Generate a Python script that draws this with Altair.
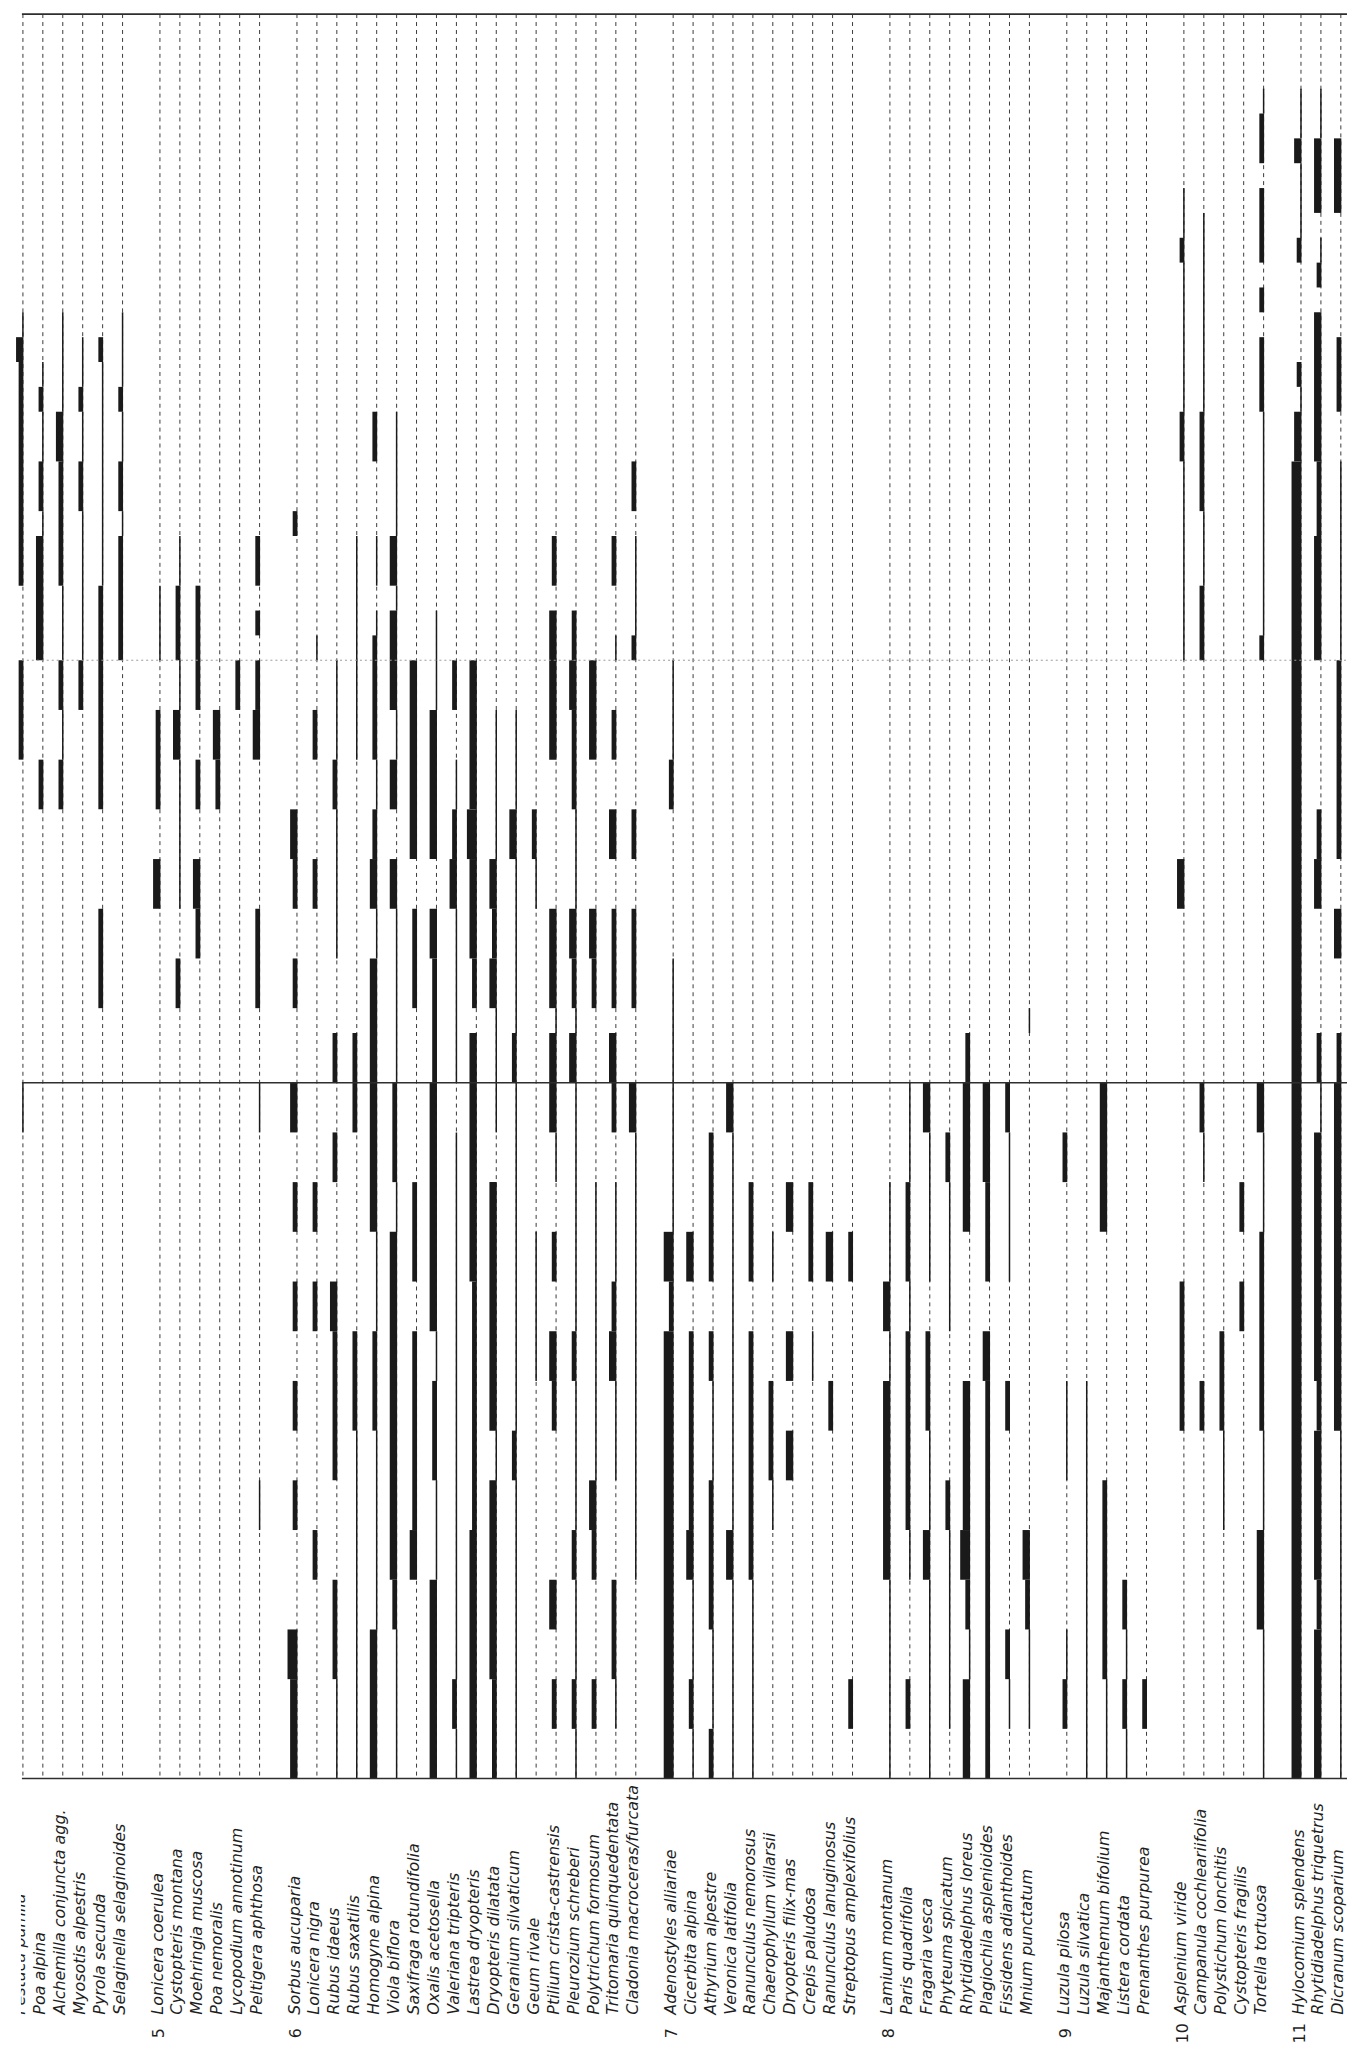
import altair as alt
import pandas as pd

# ---------------- table layout (rows) ----------------
SECTION_ROWS = [26, 17, 14]        # relevé rows in top / middle / bottom block
SECTION_ROW_UNITS = [1, 1, 2]      # height of one row in each block (table units)

# cover classes: 0 = absent (dashed), 1 = thin, 2 = medium, 3 = thick, 4 = very thick
# each string: top block | middle block | bottom block
G4_NUMBER = "4"
G4_SPECIES = ["Festuca pumila", "Poa alpina", "Alchemilla conjuncta agg.",
              "Myosotis alpestris", "Pyrola secunda", "Selaginella selaginoides"]
G4_COVER = [
    "00000000000013222222222000|22220000000000000|10000000000000",
    "00000000000000121122133333|00002200000000000|00000000000000",
    "00000000000011113322222111|22112200000000000|00000000000000",
    "00000000000001121122111111|22000000000000000|00000000000000",
    "00000000000002111111111222|22222200002222000|00000000000000",
    "00000000000011121122122222|00000000000000000|00000000000000",
]

G5_NUMBER = "5"
G5_SPECIES = ["Lonicera coerulea", "Cystopteris montana", "Moehringia muscosa",
              "Poa nemoralis", "Lycopodium annotinum", "Peltigera aphthosa"]
G5_COVER = [
    "00000000000000000000000111|00222200330000000|00000000000000",
    "00000000000000000000011222|11331111110022000|00000000000000",
    "00000000000000000000000222|22002200332200000|00000000000000",
    "00000000000000000000000000|00332200000000000|00000000000000",
    "00000000000000000000000000|22000000000000000|00000000000000",
    "00000000000000000000022020|22330000002222000|10000000100000",
]

G6_NUMBER = "6"
G6_SPECIES = ["Sorbus aucuparia", "Lonicera nigra", "Rubus idaeus", "Rubus saxatilis",
              "Homogyne alpina", "Viola biflora", "Saxifraga rotundifolia",
              "Oxalis acetosella", "Valeriana tripteris", "Lastrea dryopteris",
              "Dryopteris dilatata", "Geranium silvaticum", "Geum rivale",
              "Ptilium crista-castrensis", "Pleurozium schreberi", "Polytrichum formosum",
              "Tritomaria quinquedentata", "Cladonia macroceras/furcata"]
G6_COVER = [
    "00000000000000000000200000|00000033220022000|30202020200433",
    "00000000000000000000000001|00220000220000000|00202000020000",
    "00000000000000000000000000|11112211111100022|02003222002211",
    "00000000000000000000011111|11110000000000022|20000221111111",
    "00000000000000002200011012|22221122331133333|33311221111333",
    "00000000000000001111133133|33113300331111111|22133333332111",
    "00000000000000000000000000|33333333002222000|00220222230000",
    "00000000000000000000000011|11333333003322222|33333122113333",
    "00000000000000000000000000|22001122331111111|01111111111121",
    "00000000000000000000000000|33333344333322033|33332222233333",
    "00000000000000000000000000|00111111332233111|10333331333322",
    "00000000000000000000000000|00111133111111122|11111112111111",
    "00000000000000000000000000|00000022110000000|00011100000000",
    "00000000000000000000022033|33330000003333133|31020320003020",
    "00000000000000000000000022|33222211113322133|11111211121121",
    "00000000000000000000000000|33330000003322000|00111111320020",
    "00000000000000000000022001|00220033002222033|20112311002210",
    "00000000000000000022011112|00000022002222000|31111111110000",
]

G7_NUMBER = "7"
G7_SPECIES = ["Adenostyles alliariae", "Cicerbita alpina", "Athyrium alpestre",
              "Veronica latifolia", "Ranunculus nemorosus", "Chaerophyllum villarsii",
              "Dryopteris filix-mas", "Crepis paludosa", "Ranunculus lanuginosus",
              "Streptopus amplexifolius"]
G7_COVER = [
    "00000000000000000000000000|11112200000011111|11142444444444",
    "00000000000000000000000000|00000000000000000|00030222231121",
    "00000000000000000000000000|00000000000000000|02220211222112",
    "00000000000000000000000000|00000000000000000|31111111131111",
    "00000000000000000000000000|00000000000000000|00220222221111",
    "00000000000000000000000000|00000000000000000|00010022100000",
    "00000000000000000000000000|00000000000000000|00300303000000",
    "00000000000000000000000000|00000000000000000|00220100000000",
    "00000000000000000000000000|00000000000000000|00030020000000",
    "00000000000000000000000000|00000000000000000|00020000000020",
]

G8_NUMBER = "8"
G8_SPECIES = ["Lamium montanum", "Paris quadrifolia", "Fragaria vesca",
              "Phyteuma spicatum", "Rhytidiadelphus loreus", "Plagiochila asplenioides",
              "Fissidens adianthoides", "Mnium punctatum"]
G8_COVER = [
    "00000000000000000000000000|00000000000000000|00113133331111",
    "00000000000000000000000000|00000000000000000|11221222210020",
    "00000000000000000000000000|00000000000000000|31110221131111",
    "00000000000000000000000000|00000000000000000|02111000211110",
    "00000000000000000000000000|00000000000000022|33300033342133",
    "00000000000000000000000000|00000000000000000|33220322222222",
    "00000000000000000000000000|00000000000000000|21110020000210",
    "00000000000000000000000000|00000000000000100|00000000032110",
]

G9_NUMBER = "9"
G9_SPECIES = ["Luzula pilosa", "Luzula silvatica", "Majanthemum bifolium",
              "Listera cordata", "Prenanthes purpurea"]
G9_COVER = [
    "00000000000000000000000000|00000000000000000|02000011000120",
    "00000000000000000000000000|00000000000000000|00000011111111",
    "00000000000000000000000000|00000000000000000|33300000222211",
    "00000000000000000000000000|00000000000000000|00000000002121",
    "00000000000000000000000000|00000000000000000|00000000000020",
]

G10_NUMBER = "10"
G10_SPECIES = ["Asplenium viride", "Campanula cochleariifolia", "Polystichum lonchitis",
               "Cystopteris fragilis", "Tortella tortuosa"]
G10_COVER = [
    "00000001121111112211111111|00000000330000000|00002220000000",
    "00000000111111112222111222|00000000000000000|21000020000000",
    "00000000000000000000000000|00000000000000000|00000221100000",
    "00000000000000000000000000|00000000000000000|00202000000000",
    "00012202220202221111111112|00000000000000000|31122221133111",
]

G11_NUMBER = "11"
G11_SPECIES = ["Hylocomium splendens", "Rhytidiadelphus triquetrus", "Dicranum scoparium"]
G11_COVER = [
    "00011311120000213344444444|44444444444444444|44444444444444",
    "00011333012033333322233333|00000022330000022|13333323332333",
    "00000333000002220011111111|22222222003300022|33333331111111",
]

GROUPS = [
    (G4_NUMBER, G4_SPECIES, G4_COVER), (G5_NUMBER, G5_SPECIES, G5_COVER),
    (G6_NUMBER, G6_SPECIES, G6_COVER), (G7_NUMBER, G7_SPECIES, G7_COVER),
    (G8_NUMBER, G8_SPECIES, G8_COVER), (G9_NUMBER, G9_SPECIES, G9_COVER),
    (G10_NUMBER, G10_SPECIES, G10_COVER), (G11_NUMBER, G11_SPECIES, G11_COVER),
]

# stroke width (px) of each cover class; wide bars grow to the left of the column line
CLASS_WIDTH = {1: 1.5, 2: 4.8, 3: 7.4, 4: 10.0}

# ---------------- build tables ----------------
row_spans = []
u = 0
for n, h in zip(SECTION_ROWS, SECTION_ROW_UNITS):
    for _ in range(n):
        row_spans.append((u, u + h))
        u += h
TOTAL_UNITS = u
SECTION_BOUNDS = [0]
for n, h in zip(SECTION_ROWS, SECTION_ROW_UNITS):
    SECTION_BOUNDS.append(SECTION_BOUNDS[-1] + n * h)

GROUP_GAP = 1.875  # column slots between groups

species_rows, bar_rows, number_rows = [], [], []
pos = 0.0
for gi, (num, names, covers) in enumerate(GROUPS):
    if gi > 0:
        pos += GROUP_GAP - 1
    for j, (name, cov) in enumerate(zip(names, covers)):
        cells = cov.replace("|", "")
        species_rows.append({"pos": pos, "label": name, "y0": 0, "y1": TOTAL_UNITS})
        if j == 0 and gi > 0:
            number_rows.append({"pos": pos, "num": num})
        run_start, run_cls = None, "0"
        for k, c in enumerate(cells + "0"):
            if c != run_cls:
                if run_cls != "0":
                    bar_rows.append({"pos": pos, "y": row_spans[run_start][0],
                                     "y2": row_spans[k - 1][1], "cls": int(run_cls)})
                run_start, run_cls = k, c
        pos += 1

species_df = pd.DataFrame(species_rows)
bars_df = pd.DataFrame(bar_rows)
numbers_df = pd.DataFrame(number_rows)

W, H = 1347, 2054
PX_PER_SLOT = 20.05
PX_PER_UNIT = 25.0
X0_PX = 15.0
x_dom = [-X0_PX / PX_PER_SLOT, (W - X0_PX) / PX_PER_SLOT]
y_dom = [0, H / PX_PER_UNIT]

xs = alt.Scale(domain=x_dom, nice=False, zero=False)
ys = alt.Scale(domain=y_dom, nice=False, zero=False, reverse=True)

LABEL_Y = TOTAL_UNITS + 9.5
NUMBER_Y = TOTAL_UNITS + 10.25

species_df["ly"] = LABEL_Y
species_df["lx"] = species_df["pos"] - 0.12
numbers_df["ny"] = NUMBER_Y
numbers_df["nx"] = numbers_df["pos"] - 0.05

hl_df = pd.DataFrame({
    "y": SECTION_BOUNDS,
    "style": ["solid", "dotted", "solid", "solid"],
    "x0": [-0.05] * 4,
    "x1": [x_dom[1]] * 4,
})

# the scanned page is trimmed just left of the first column: hide that strip of the label zone
mask_df = pd.DataFrame({"x0": [x_dom[0]], "x1": [-0.1],
                        "y0": [TOTAL_UNITS + 0.5], "y1": [y_dom[1]]})

background = alt.Chart(species_df).mark_rule(
    color="#3a3a3a", strokeWidth=1, strokeDash=[4, 4]
).encode(
    x=alt.X("pos:Q", scale=xs, axis=None),
    y=alt.Y("y0:Q", scale=ys, axis=None),
    y2="y1:Q",
)

bar_layers = []
for cls, w in CLASS_WIDTH.items():
    off = 0.0 if cls == 1 else 0.5 - w / 2
    bar_layers.append(
        alt.Chart(bars_df).transform_filter(alt.datum.cls == cls).mark_rule(
            color="#1a1a1a", strokeCap="butt", strokeWidth=w, xOffset=off
        ).encode(
            x=alt.X("pos:Q", scale=xs, axis=None),
            y=alt.Y("y:Q", scale=ys, axis=None),
            y2="y2:Q",
        )
    )

solid_lines = alt.Chart(hl_df).transform_filter(alt.datum.style == "solid").mark_rule(
    color="#2e2e2e", strokeWidth=1.6
).encode(
    x=alt.X("x0:Q", scale=xs, axis=None), x2="x1:Q",
    y=alt.Y("y:Q", scale=ys, axis=None),
)
dotted_lines = alt.Chart(hl_df).transform_filter(alt.datum.style == "dotted").mark_rule(
    color="#9a9a9a", strokeWidth=1, strokeDash=[2, 3]
).encode(
    x=alt.X("x0:Q", scale=xs, axis=None), x2="x1:Q",
    y=alt.Y("y:Q", scale=ys, axis=None),
)

labels = alt.Chart(species_df).mark_text(
    angle=270, align="left", baseline="middle", font="DejaVu Sans",
    fontStyle="italic", fontSize=16, color="#1e1e1e"
).encode(
    x=alt.X("lx:Q", scale=xs, axis=None),
    y=alt.Y("ly:Q", scale=ys, axis=None),
    text="label:N",
)

numbers = alt.Chart(numbers_df).mark_text(
    angle=270, align="center", baseline="middle", font="DejaVu Sans",
    fontSize=16, color="#1e1e1e"
).encode(
    x=alt.X("nx:Q", scale=xs, axis=None),
    y=alt.Y("ny:Q", scale=ys, axis=None),
    text="num:N",
)

mask = alt.Chart(mask_df).mark_rect(color="white").encode(
    x=alt.X("x0:Q", scale=xs, axis=None), x2="x1:Q",
    y=alt.Y("y0:Q", scale=ys, axis=None), y2="y1:Q",
)

chart = alt.layer(background, *bar_layers, solid_lines, dotted_lines, labels, numbers,
                  mask).properties(
    width=W, height=H, autosize=alt.AutoSizeParams(type="none"), padding=0
).configure_view(stroke=None)

chart.save("out.html", embed_options={"renderer": "svg", "actions": False})
